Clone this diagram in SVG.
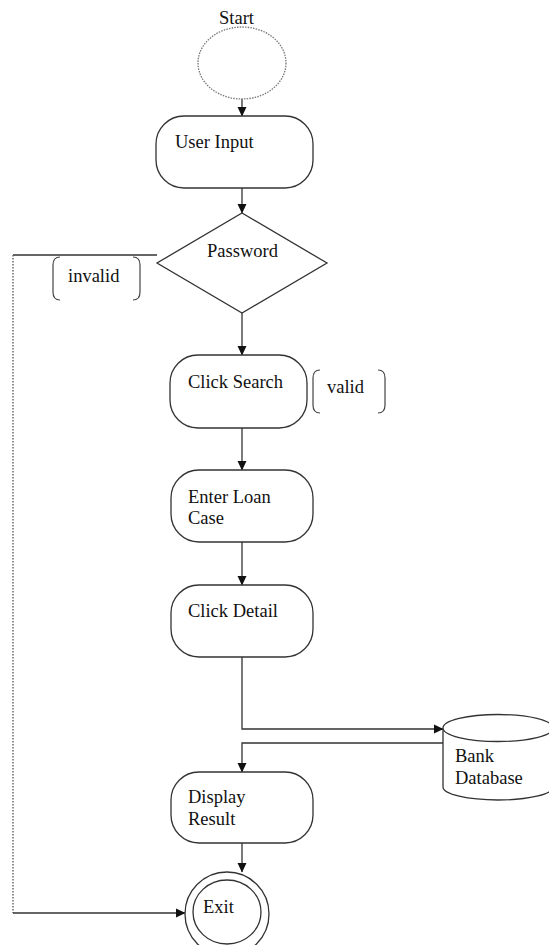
<svg xmlns="http://www.w3.org/2000/svg" width="549" height="945" viewBox="0 0 549 945">
<style>
text{font-family:"Liberation Serif","Times New Roman",serif;font-size:18.5px;fill:#111}
.shape{fill:#fff;stroke:#333;stroke-width:1.3}
.line{fill:none;stroke:#333;stroke-width:1.3}
.dot{fill:none;stroke:#555;stroke-width:1.3;stroke-dasharray:1.5 1.5}
.br{fill:none;stroke:#444;stroke-width:1.2}
</style>
<defs>
<marker id="arr" markerWidth="10" markerHeight="10" refX="9" refY="5" orient="auto" markerUnits="userSpaceOnUse">
<path d="M0,0.5 L9.5,5 L0,9.5 Z" fill="#111"/>
</marker>
</defs>
<g id="connectors">
<line class="line" x1="242" y1="99" x2="242" y2="116" marker-end="url(#arr)"/>
<line class="line" x1="242" y1="188" x2="242" y2="213" marker-end="url(#arr)"/>
<line class="line" x1="242" y1="313" x2="242" y2="355" marker-end="url(#arr)"/>
<line class="line" x1="242" y1="428" x2="242" y2="470" marker-end="url(#arr)"/>
<line class="line" x1="242" y1="542" x2="242" y2="585" marker-end="url(#arr)"/>
<polyline class="line" points="242,657 242,729 443,729" marker-end="url(#arr)"/>
<polyline class="line" points="443,743 242,743 242,772" marker-end="url(#arr)"/>
<line class="line" x1="242" y1="843" x2="242" y2="872" marker-end="url(#arr)"/>
<line class="line" x1="13" y1="255" x2="157" y2="255"/>
<line class="dot" x1="13" y1="255" x2="13" y2="913"/>
<line class="line" x1="13" y1="913" x2="185" y2="913" marker-end="url(#arr)"/>
</g>
<g id="start">
<text x="219" y="24">Start</text>
<ellipse cx="242" cy="63" rx="44" ry="36" fill="#fff" stroke="#777" stroke-width="1.3" stroke-dasharray="1.5 1.2"/>
</g>
<g id="user-input">
<rect class="shape" x="156" y="116" width="157" height="72" rx="28" ry="28"/>
<text x="175" y="148">User Input</text>
</g>
<g id="password">
<polygon class="shape" points="242,213 327,263 242,313 157,263"/>
<text x="207" y="257">Password</text>
</g>
<g id="invalid-label">
<path class="br" d="M60,257 Q53,257 53,265 L53,292 Q53,300 60,300"/>
<path class="br" d="M133,257 Q140,257 140,265 L140,292 Q140,300 133,300"/>
<text x="68" y="282">invalid</text>
</g>
<g id="click-search">
<rect class="shape" x="170" y="355" width="137" height="73" rx="28" ry="28"/>
<text x="188" y="388">Click Search</text>
</g>
<g id="valid-label">
<path class="br" d="M320,370 Q313,370 313,378 L313,405 Q313,413 320,413"/>
<path class="br" d="M378,370 Q385,370 385,378 L385,405 Q385,413 378,413"/>
<text x="327" y="393">valid</text>
</g>
<g id="enter-loan-case">
<rect class="shape" x="171" y="470" width="142" height="72" rx="28" ry="28"/>
<text x="188" y="503">Enter Loan</text>
<text x="188" y="524">Case</text>
</g>
<g id="click-detail">
<rect class="shape" x="171" y="585" width="142" height="72" rx="28" ry="28"/>
<text x="188" y="617">Click Detail</text>
</g>
<g id="bank-database">
<path class="shape" d="M443,728 L443,787 A55,13 0 0 0 553,787 L553,728"/>
<ellipse class="shape" cx="498" cy="728" rx="55" ry="13.5"/>
<text x="455" y="762">Bank</text>
<text x="455" y="784">Database</text>
</g>
<g id="display-result">
<rect class="shape" x="171" y="772" width="142" height="71" rx="28" ry="28"/>
<text x="188" y="803">Display</text>
<text x="188" y="825">Result</text>
</g>
<g id="exit">
<ellipse class="shape" cx="227" cy="914" rx="42" ry="42"/>
<ellipse class="shape" cx="227" cy="912" rx="34" ry="32"/>
<text x="203" y="913">Exit</text>
</g>
</svg>
